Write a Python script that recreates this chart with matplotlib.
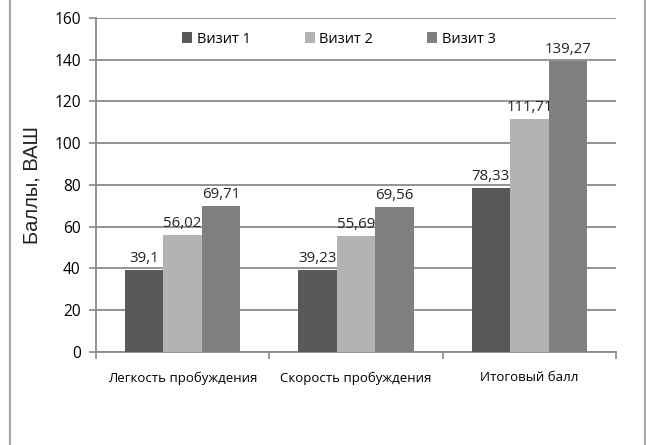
import matplotlib
matplotlib.use("Agg")
import matplotlib.pyplot as plt
from matplotlib.lines import Line2D
from matplotlib.ticker import FixedLocator, NullFormatter
import numpy as np

plt.rcParams['font.family'] = ['Open Sans', 'DejaVu Sans']

categories = ["Легкость пробуждения", "Скорость пробуждения", "Итоговый балл"]
series_names = ["Визит 1", "Визит 2", "Визит 3"]
visit1 = [39.1, 39.23, 78.33]
visit2 = [56.02, 55.69, 111.71]
visit3 = [69.71, 69.56, 139.27]
y_ticks = [0, 20, 40, 60, 80, 100, 120, 140, 160]
colors = ["#595959", "#b3b3b3", "#7f7f7f"]

fig = plt.figure(figsize=(6.46, 4.45), dpi=100)
ax = fig.add_axes([0.1486, 0.209, 0.805, 0.7506])

x = np.arange(len(categories))
width = 1 / 4.5
series = [visit1, visit2, visit3]
for i, (vals, name, c) in enumerate(zip(series, series_names, colors)):
    pos = x + (i - 1) * width
    bars = ax.bar(pos, vals, width=width, color=c, label=name, zorder=3)
    for b, v in zip(bars, vals):
        txt = f"{v:g}".replace(".", ",")
        ax.annotate(txt, (b.get_x() + b.get_width() / 2, v),
                    xytext=(0, 3), textcoords="offset points",
                    ha="center", va="bottom", fontsize=10.8, color="#222222")

ax.set_xlim(-0.5, 2.5)
ax.set_ylim(0, 160)
ax.set_yticks(y_ticks)
ax.yaxis.grid(True, color="#8a8a8a", linewidth=1.3, zorder=0)
ax.set_axisbelow(True)

ax.set_xticks(x)
ax.set_xticklabels(categories, fontsize=9.5)
ax.tick_params(axis="x", which="major", length=0, pad=14)
ax.xaxis.set_minor_locator(FixedLocator([-0.5, 0.5, 1.5, 2.5]))
ax.xaxis.set_minor_formatter(NullFormatter())
ax.tick_params(axis="x", which="minor", length=5, color="#8a8a8a", width=1.2)
ax.tick_params(axis="y", length=5, color="#8a8a8a", width=1.2, labelsize=11.2, pad=6)

for s in ["top", "right"]:
    ax.spines[s].set_visible(False)
for s in ["left", "bottom"]:
    ax.spines[s].set_color("#8a8a8a")
    ax.spines[s].set_linewidth(1.3)

ax.set_ylabel("Баллы, ВАШ", fontsize=14.5, family=["Liberation Sans", "DejaVu Sans"],
              labelpad=9, color="#222222")

ax.legend(loc="center", bbox_to_anchor=(0.467, 0.937), ncol=3, frameon=False,
          fontsize=10.5, handlelength=0.7, handleheight=0.7, handletextpad=0.3,
          columnspacing=3.7)

# outer frame lines at the sides of the figure
fig.add_artist(Line2D([9.5 / 646, 9.5 / 646], [0, 1], color="#a6a6a6", linewidth=1.6))
fig.add_artist(Line2D([644.5 / 646, 644.5 / 646], [0, 1], color="#a6a6a6", linewidth=1.6))

fig.savefig("out.png", dpi=100)
